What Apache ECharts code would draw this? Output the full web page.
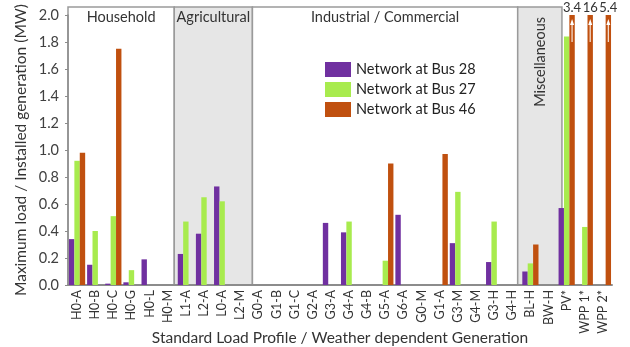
<!DOCTYPE html>
<html>
<head>
<meta charset="utf-8">
<script src="https://cdn.jsdelivr.net/npm/echarts@6/dist/echarts.min.js"></script>
<style>
  html, body { margin: 0; padding: 0; background: #fff; }
  #bar { width: 630px; height: 347px; }
</style>
</head>
<body>
<div id="bar"></div>
<script>
// categories (standard load profiles / generation)
const categories = ['H0-A', 'H0-B', 'H0-C', 'H0-G', 'H0-L', 'H0-M',
  'L1-A', 'L2-A', 'L0-A', 'L2-M',
  'G0-A', 'G1-B', 'G1-C', 'G2-A', 'G3-A', 'G4-A', 'G4-B', 'G5-A', 'G6-A', 'G0-M', 'G1-A', 'G3-M', 'G4-M', 'G3-H', 'G4-H',
  'BL-H', 'BW-H',
  'PV*', 'WPP 1*', 'WPP 2*'];

const bus28 = [0.34, 0.15, 0.01, 0.02, 0.19, 0,
  0.23, 0.38, 0.73, 0,
  0, 0, 0, 0, 0.46, 0.39, 0, 0, 0.52, 0, 0, 0.31, 0, 0.17, 0,
  0.10, 0,
  0.57, 0, 0];
const bus27 = [0.92, 0.40, 0.51, 0.11, 0, 0,
  0.47, 0.65, 0.62, 0,
  0, 0, 0, 0, 0, 0.47, 0, 0.18, 0, 0, 0, 0.69, 0, 0.47, 0,
  0.16, 0,
  1.84, 0.43, 0];
const bus46 = [0.98, 0, 1.75, 0, 0, 0,
  0, 0, 0, 0,
  0, 0, 0, 0, 0, 0, 0, 0.90, 0, 0, 0.97, 0, 0, 0, 0,
  0.30, 0,
  3.4, 16, 5.4];

const seriesNames = ['Network at Bus 28', 'Network at Bus 27', 'Network at Bus 46'];
const yTicks = [0, 0.2, 0.4, 0.6, 0.8, 1.0, 1.2, 1.4, 1.6, 1.8, 2.0];

// section boxes: name, from, to (category units)
const sectionNames = ['Household', 'Agricultural', 'Industrial / Commercial', 'Miscellaneous'];
const sectionFrom = [0, 5.86, 10.17, 24.8];
const sectionTo = [5.86, 10.17, 24.8, 27.24];

function getEchartsBar () {
  const myChart = echarts.init(document.getElementById('bar'));

  const fontFamily = 'Lato';
  const yMax = yTicks[yTicks.length - 1];
  const boxTop = yMax + 0.06;
  const barWidth = 5.4;
  const colors = ['#7030A0', '#A8EB4E', '#C0500F'];

  // bars that leave the axis range get a white arrow
  const arrowData = [];
  bus46.forEach(function (v, i) {
    if (v > yMax) {
      arrowData.push([i, yMax - 0.03, yMax - 0.2]);
    }
  });

  // background boxes for the profile groups (custom series, not clipped)
  function renderSection (params, api) {
    const i = params.dataIndex;
    const p0 = api.coord([api.value(0), 0]);
    const p1 = api.coord([api.value(1), boxTop]);
    const grey = (i % 2 === 1);
    const vertical = sectionNames[i] === 'Miscellaneous';
    return {
      type: 'group',
      children: [
        {
          type: 'rect',
          shape: { x: p0[0], y: p1[1], width: p1[0] - p0[0], height: p0[1] - p1[1] },
          style: { fill: grey ? '#E6E6E6' : '#FFFFFF', stroke: '#9A9A9A', lineWidth: 1.5 }
        },
        {
          type: 'text',
          x: (p0[0] + p1[0]) / 2,
          y: p1[1] + (vertical ? 10 : 3),
          rotation: vertical ? Math.PI / 2 : 0,
          style: {
            text: sectionNames[i],
            fill: '#333',
            fontSize: 14.5,
            fontFamily: fontFamily,
            align: vertical ? 'right' : 'center',
            verticalAlign: vertical ? 'middle' : 'top'
          }
        }
      ]
    };
  }

  // thin white arrow inside the orange bar
  function renderArrow (params, api) {
    const top = api.coord([api.value(0), api.value(1)]);
    const bottom = api.coord([api.value(0), api.value(2)]);
    const x = top[0] + barWidth;
    return {
      type: 'group',
      children: [
        {
          type: 'line',
          shape: { x1: x, y1: top[1] + 4, x2: x, y2: bottom[1] },
          style: { stroke: '#FFFFFF', lineWidth: 1.2, opacity: 0.85 }
        },
        {
          type: 'polygon',
          shape: { points: [[x, top[1]], [x + 2, top[1] + 6], [x - 2, top[1] + 6]] },
          style: { fill: '#FFFFFF' }
        }
      ]
    };
  }

  const option = {
    animation: false,
    textStyle: { fontFamily: fontFamily },
    grid: {
      top: 15,
      left: 68,
      right: 18,
      bottom: 62,
      containLabel: false,
      outerBoundsMode: 'none'
    },
    legend: {
      data: seriesNames,
      orient: 'vertical',
      left: 320,
      top: 57,
      itemWidth: 26,
      itemHeight: 15,
      itemGap: 5,
      icon: 'rect',
      textStyle: { color: '#222', fontSize: 14.5, fontFamily: fontFamily }
    },
    xAxis: [
      {
        type: 'category',
        data: categories,
        name: 'Standard Load Profile / Weather dependent Generation',
        nameLocation: 'middle',
        nameGap: 45,
        nameMoveOverlap: false,
        nameTextStyle: { color: '#333', fontSize: 15.5, fontFamily: fontFamily },
        axisTick: { show: false },
        axisLabel: {
          interval: 0,
          rotate: 90,
          margin: 5,
          color: '#333',
          fontSize: 12.5,
          fontFamily: fontFamily
        },
        axisLine: { show: true, lineStyle: { color: '#8C8C8C', width: 2 } },
        splitLine: { show: false }
      },
      {
        // hidden helper axis for the section boxes
        type: 'value',
        min: 0,
        max: categories.length,
        show: false
      }
    ],
    yAxis: {
      type: 'value',
      min: 0,
      max: yMax,
      interval: 0.2,
      offset: 3,
      name: 'Maximum load / Installed generation (MW)',
      nameLocation: 'middle',
      nameGap: 36,
      nameMoveOverlap: false,
      nameTextStyle: { color: '#333', fontSize: 15.5, fontFamily: fontFamily },
      axisLabel: {
        color: '#404040',
        fontSize: 14.5,
        margin: 6,
        fontFamily: fontFamily,
        formatter: function (v) { return v.toFixed(1); }
      },
      axisLine: { show: true, lineStyle: { color: '#8C8C8C', width: 1.5 } },
      axisTick: { show: true, length: 3, lineStyle: { color: '#8C8C8C' } },
      splitLine: { show: false }
    },
    series: [
      {
        type: 'custom',
        xAxisIndex: 1,
        silent: true,
        clip: false,
        z: 0,
        renderItem: renderSection,
        encode: { x: [0, 1] },
        data: sectionFrom.map(function (f, i) { return [f, sectionTo[i]]; })
      },
      {
        name: seriesNames[0],
        type: 'bar',
        barWidth: barWidth,
        barGap: '0%',
        itemStyle: { color: colors[0] },
        data: bus28
      },
      {
        name: seriesNames[1],
        type: 'bar',
        barWidth: barWidth,
        barGap: '0%',
        itemStyle: { color: colors[1] },
        data: bus27
      },
      {
        name: seriesNames[2],
        type: 'bar',
        barWidth: barWidth,
        barGap: '0%',
        itemStyle: { color: colors[2] },
        label: {
          show: true,
          position: 'top',
          distance: 1,
          color: '#333',
          fontSize: 13,
          fontFamily: fontFamily,
          formatter: function (p) { return p.value > yMax ? String(p.value) : ''; }
        },
        data: bus46
      },
      {
        type: 'custom',
        xAxisIndex: 0,
        silent: true,
        clip: false,
        z: 5,
        renderItem: renderArrow,
        encode: { x: 0, y: [1, 2] },
        data: arrowData
      }
    ]
  };

  myChart.setOption(option);

  window.addEventListener('resize', function () {
    myChart.resize();
  });
}

getEchartsBar();
</script>
</body>
</html>
